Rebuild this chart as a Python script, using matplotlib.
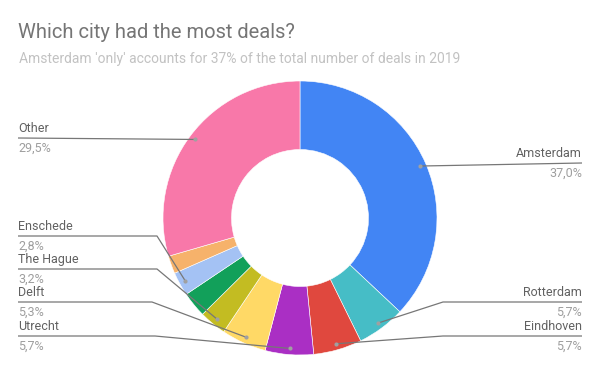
import numpy as np
import matplotlib
matplotlib.use('Agg')
import matplotlib.pyplot as plt

# Share of deals per city (clockwise from the top)
cities = ['Amsterdam', 'Rotterdam', 'Eindhoven', 'Utrecht', 'Delft',
          'The Hague', None, 'Enschede', None, 'Other']
shares = [37.0, 5.7, 5.7, 5.7, 5.3, 3.2, 3.0, 2.8, 2.1, 29.5]
colors = ['#4285f4', '#46bdc6', '#e0483e', '#aa2fc4', '#ffd966',
          '#c3bc22', '#12a05a', '#a4c2f4', '#f6b26b', '#f878a9']

title = 'Which city had the most deals?'
subtitle = "Amsterdam 'only' accounts for 37% of the total number of deals in 2019"

# label layout: side, y of the line (px from top), x of the elbow (None = straight)
label_pos = {
    'Other': ('left', 138, None),
    'Enschede': ('left', 236, 157),
    'The Hague': ('left', 269, 157),
    'Delft': ('left', 302, 152),
    'Utrecht': ('left', 336, 155),
    'Amsterdam': ('right', 163, None),
    'Rotterdam': ('right', 302, 443),
    'Eindhoven': ('right', 336, 443),
}

W, H = 600, 371
cx, cy, R = 300, 218, 137

plt.rcParams['font.family'] = ['Roboto', 'DejaVu Sans']

fig = plt.figure(figsize=(W / 100, H / 100), dpi=100)
ax = fig.add_axes([0, 0, 1, 1])

wedges, _ = ax.pie(shares, colors=colors, center=(cx, H - cy), radius=R,
                   startangle=90, counterclock=False,
                   wedgeprops=dict(width=R * 0.5, edgecolor='white', linewidth=0.4))
ax.set_xlim(0, W)
ax.set_ylim(0, H)
ax.axis('off')

line_col = '#777777'
for w, name, val in zip(wedges, cities, shares):
    if name is None:
        continue
    side, ly, elbow = label_pos[name]
    mid = np.deg2rad((w.theta1 + w.theta2) / 2)
    dx = cx + 0.955 * R * np.cos(mid)
    dy = (H - cy) + 0.955 * R * np.sin(mid)
    y = H - ly
    if side == 'left':
        x0, ha = 18, 'left'
    else:
        x0, ha = 582, 'right'
    xs = [x0]
    ys = [y]
    if elbow is not None:
        xs.append(elbow)
        ys.append(y)
    xs.append(dx)
    ys.append(dy)
    ax.plot(xs, ys, color=line_col, lw=0.9, solid_capstyle='butt')
    ax.plot(dx, dy, 'o', ms=3, color='#a0a0a0', mec='none')
    ax.text(x0, y + 3, name, ha=ha, va='bottom', fontsize=9, color='#616161')
    pct = f'{val:.1f}'.replace('.', ',') + '%'
    ax.text(x0, y - 4, pct, ha=ha, va='top', fontsize=9, color='#9e9e9e')

fig.text(18 / W, 1 - 38 / H, title, fontsize=14.5, color='#757575', va='baseline')
fig.text(19 / W, 1 - 63 / H, subtitle, fontsize=10, color='#c2c2c2', va='baseline')

fig.savefig('out.png', dpi=100, facecolor='white')
